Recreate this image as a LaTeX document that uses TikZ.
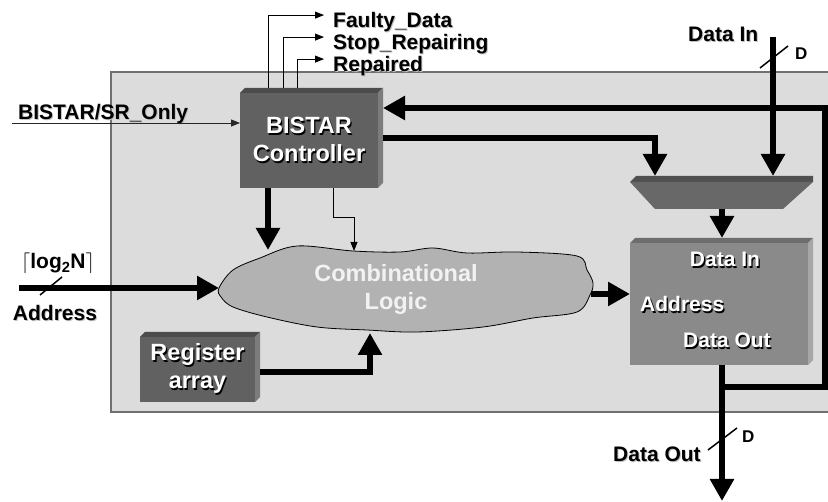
\documentclass[tikz,border=0pt]{standalone}
\usepackage{fontspec}
\setmainfont{Liberation Sans}
\usepackage{xcolor}
\usetikzlibrary{arrows.meta,calc}

\definecolor{panelfill}{HTML}{DCDCDC}
\definecolor{panelline}{HTML}{707070}
\definecolor{darkfront}{HTML}{616161}
\definecolor{darktop}{HTML}{4C4C4C}
\definecolor{darkside}{HTML}{7C7C7C}
\definecolor{memfront}{HTML}{8A8A8A}
\definecolor{memtop}{HTML}{6E6E6E}
\definecolor{memside}{HTML}{A6A6A6}
\definecolor{muxband}{HTML}{505050}
\definecolor{muxbody}{HTML}{686868}
\definecolor{logicfill}{HTML}{B2B2B2}

% white text with a hard black shadow, black text with a soft one
\newcommand\wshd[1]{\rlap{\kern1.3pt\raisebox{-1.3pt}{\textcolor{black}{#1}}}\textcolor{white}{#1}}
\newcommand\gshd[1]{\rlap{\kern1pt\raisebox{-1pt}{\textcolor{black!25}{#1}}}#1}

% top and right faces of a block node
\newcommand\blockdepth[3]{%
  \fill[#2] (#1.north west) -- ++(5,-5) -- ($(#1.north east)+(5,-5)$) -- (#1.north east) -- cycle;
  \fill[#3] (#1.north east) -- ++(5,-5) -- ($(#1.south east)+(5,-5)$) -- (#1.south east) -- cycle;}

\begin{document}
\begin{tikzpicture}[x=1pt,y=1pt,yscale=-1,
  bus/.style={line width=6.5pt,-{Triangle[width=23pt,length=22pt]}},
  sig/.style={line width=0.9pt,-{Triangle[width=7pt,length=9pt]}},
  lbl/.style={inner sep=0pt,font=\fontsize{21}{25}\selectfont\bfseries},
  buswidth/.style={inner sep=0pt,font=\fontsize{17}{20}\selectfont\bfseries},
  block/.style={inner sep=0pt,outer sep=0pt,align=center,font=\fontsize{23.5}{28}\selectfont\bfseries},
  memtxt/.style={inner sep=0pt,font=\fontsize{21}{25}\selectfont\bfseries}]
\useasboundingbox (0,0) rectangle (828,502);

%Shape: Rectangle (chip)
\draw [draw=panelline, fill=panelfill, line width=1.3pt] (111,72) rectangle (850,412);

%Shape: Blocks
\node [block, fill=darkfront, minimum width=138pt, minimum height=95pt] (ctrl) at (309,140.5) {\wshd{BISTAR}\\\wshd{Controller}};
\blockdepth{ctrl}{darktop}{darkside}
\node [block, fill=darkfront, minimum width=115pt, minimum height=65pt] (reg) at (197.5,369.5) {\wshd{Register}\\\wshd{array}};
\blockdepth{reg}{darktop}{darkside}
\node [block, fill=memfront, minimum width=178pt, minimum height=122pt] (mem) at (719,304) {};
\blockdepth{mem}{memtop}{memside}
\node [memtxt, anchor=base] (memdi) at (725,267) {\wshd{Data In}};
\node [memtxt, anchor=base west] (memad) at (640,312) {\wshd{Address}};
\node [memtxt, anchor=base west] (memdo) at (683,348) {\wshd{Data Out}};

%Shape: Mux
\fill [muxband] (630,182) -- (636,176) -- (813,176) -- (813,182) -- cycle;
\fill [muxbody] (630,182) -- (813,182) -- (783,209) -- (655,209) -- cycle;

%Shape: Cloud
\draw [fill=logicfill, line width=0.8pt] plot [smooth cycle, tension=0.55] coordinates {
  (219,288) (233,270) (260,258) (297,246) (353,251) (400,252) (433,248)
  (467,253) (517,252) (577,256) (587,270) (593,283) (590,295) (577,312)
  (533,318) (483,327) (417,332) (367,330) (317,327) (267,317) (233,307) (221,297)};
\node [block, text=white!95!black] (logic) at (396,289) {Combinational\\Logic};

% ports
\coordinate (muxL) at (655,176);
\coordinate (muxR) at (773,176);
\coordinate (muxO) at (722,209);
\coordinate (memT) at (722,238);
\coordinate (logW) at (219,288);
\coordinate (logE) at (591,294);
\coordinate (logN1) at (268,250);
\coordinate (logN2) at (354,251);
\coordinate (logS) at (370,333);
\coordinate (ctrlR) at (383,140);
\coordinate (ctrlQ) at (383,138);
\coordinate (kink) at (333,217);
\coordinate (regR) at (260,372);
\coordinate (tap) at (722,387);
\coordinate (loopC) at (825,108);
\coordinate (dinTop) at (773,37);
\coordinate (doutEnd) at (722,501);
\coordinate (addrIn) at (19,288);
\coordinate (modeIn) at (12,123);

% Text Node
\node [lbl, anchor=base west] (mode) at (18,120) {\gshd{BISTAR/SR\_Only}};
\node [lbl, anchor=base west] (fault) at (333,28) {\gshd{Faulty\_Data}};
\node [lbl, anchor=base west] (stop) at (333,50) {\gshd{Stop\_Repairing}};
\node [lbl, anchor=base west] (rep) at (333,72) {\gshd{Repaired}};
\node [lbl, anchor=base west] (din) at (688,42) {\gshd{Data In}};
\node [lbl, anchor=base west] (dout) at (613,462) {\gshd{Data Out}};
\node [lbl, anchor=base] (addr) at (55,321) {\gshd{Address}};
\node [lbl, anchor=base] (awidth) at (58,269) {$\lceil$log\textsubscript{2}N$\rceil$};
\node [buswidth, anchor=base west] (dinw) at (795,60) {D};
\node [buswidth, anchor=base west] (doutw) at (742,443) {D};

%Straight Lines: control signals
\draw [sig, draw=black!85] (modeIn) -- (modeIn -| ctrl.west);
\foreach \n/\dx in {fault/-41, stop/-26, rep/-12}
  \draw [sig] ($(ctrl.north)+(\dx,-5)$) |- ($(\n.north west)+(-9,2.5)$);
\draw [sig] (ctrl.south -| kink) -- (kink) -| (logN2);

%Straight Lines: buses
\draw [bus] (addrIn) -- (logW);
\draw [bus] (ctrl.south -| logN1) -- (logN1);
\draw [bus] (regR) -| (logS);
\draw [bus] (logE) -- (logE -| mem.west);
\draw [bus] (ctrlQ) -| (muxL);
\draw [bus] (dinTop) -- (muxR);
\draw [bus] (muxO) -- (memT);
\draw [bus] (mem.south -| doutEnd) -- (doutEnd);
\draw [bus] (tap) -| (loopC) -- (loopC -| ctrlR);

% bus width marks
\draw [line width=1.5pt] (40,295) -- (62,277);
\draw [line width=1.5pt] (760,68) -- (788,46);
\draw [line width=1.5pt] (708,450) -- (737,428);

\end{tikzpicture}
\end{document}
